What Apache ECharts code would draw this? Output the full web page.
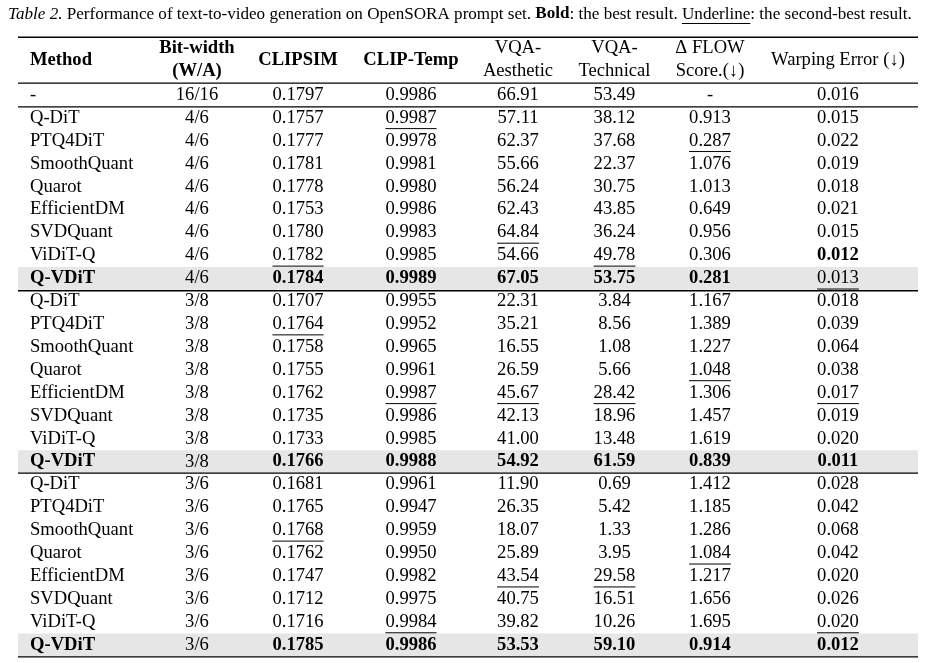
<!DOCTYPE html>
<html>
<head>
<meta charset="utf-8">
<title>Table 2</title>
<script src="https://cdn.jsdelivr.net/npm/echarts@6/dist/echarts.min.js"></script>
<style>
  html, body { margin: 0; padding: 0; background: #fff; }
  #main { width: 938px; height: 663px; }
</style>
</head>
<body>
<div id="main"></div>
<script>
// table data, one array per column (row 0 = full precision)
var methods = ["-", "Q-DiT", "PTQ4DiT", "SmoothQuant", "Quarot", "EfficientDM", "SVDQuant", "ViDiT-Q", "Q-VDiT",
  "Q-DiT", "PTQ4DiT", "SmoothQuant", "Quarot", "EfficientDM", "SVDQuant", "ViDiT-Q", "Q-VDiT",
  "Q-DiT", "PTQ4DiT", "SmoothQuant", "Quarot", "EfficientDM", "SVDQuant", "ViDiT-Q", "Q-VDiT"];
var bitWidth = ["16/16", "4/6", "4/6", "4/6", "4/6", "4/6", "4/6", "4/6", "4/6",
  "3/8", "3/8", "3/8", "3/8", "3/8", "3/8", "3/8", "3/8",
  "3/6", "3/6", "3/6", "3/6", "3/6", "3/6", "3/6", "3/6"];
var clipsim = ["0.1797", "0.1757", "0.1777", "0.1781", "0.1778", "0.1753", "0.1780", "0.1782", "0.1784",
  "0.1707", "0.1764", "0.1758", "0.1755", "0.1762", "0.1735", "0.1733", "0.1766",
  "0.1681", "0.1765", "0.1768", "0.1762", "0.1747", "0.1712", "0.1716", "0.1785"];
var clipTemp = ["0.9986", "0.9987", "0.9978", "0.9981", "0.9980", "0.9986", "0.9983", "0.9985", "0.9989",
  "0.9955", "0.9952", "0.9965", "0.9961", "0.9987", "0.9986", "0.9985", "0.9988",
  "0.9961", "0.9947", "0.9959", "0.9950", "0.9982", "0.9975", "0.9984", "0.9986"];
var vqaAesthetic = ["66.91", "57.11", "62.37", "55.66", "56.24", "62.43", "64.84", "54.66", "67.05",
  "22.31", "35.21", "16.55", "26.59", "45.67", "42.13", "41.00", "54.92",
  "11.90", "26.35", "18.07", "25.89", "43.54", "40.75", "39.82", "53.53"];
var vqaTechnical = ["53.49", "38.12", "37.68", "22.37", "30.75", "43.85", "36.24", "49.78", "53.75",
  "3.84", "8.56", "1.08", "5.66", "28.42", "18.96", "13.48", "61.59",
  "0.69", "5.42", "1.33", "3.95", "29.58", "16.51", "10.26", "59.10"];
var flowScore = ["-", "0.913", "0.287", "1.076", "1.013", "0.649", "0.956", "0.306", "0.281",
  "1.167", "1.389", "1.227", "1.048", "1.306", "1.457", "1.619", "0.839",
  "1.412", "1.185", "1.286", "1.084", "1.217", "1.656", "1.695", "0.914"];
var warpingError = ["0.016", "0.015", "0.022", "0.019", "0.018", "0.021", "0.015", "0.012", "0.013",
  "0.018", "0.039", "0.064", "0.038", "0.017", "0.019", "0.020", "0.011",
  "0.028", "0.042", "0.068", "0.042", "0.020", "0.026", "0.020", "0.012"];

var headers = [["Method"], ["Bit-width", "(W/A)"], ["CLIPSIM"], ["CLIP-Temp"],
  ["VQA-", "Aesthetic"], ["VQA-", "Technical"], ["\u0394 FLOW", "Score.(\u2193)"], ["Warping Error (\u2193)"]];
var headerBold = [true, true, true, true, false, false, false, false];

// [row, column] of best (bold) and second-best (underline) cells
var bestCells = [[7, 7], [8, 0], [8, 2], [8, 3], [8, 4], [8, 5], [8, 6],
  [16, 0], [16, 2], [16, 3], [16, 4], [16, 5], [16, 6], [16, 7],
  [24, 0], [24, 2], [24, 3], [24, 4], [24, 5], [24, 6], [24, 7]];
var secondCells = [[1, 3], [2, 6], [6, 4], [7, 2], [7, 5], [8, 7],
  [10, 2], [12, 6], [13, 3], [13, 4], [13, 5], [13, 7],
  [19, 2], [20, 6], [21, 4], [21, 5], [23, 3], [23, 7]];
var oursRows = [8, 16, 24];

var columns = [methods, bitWidth, clipsim, clipTemp, vqaAesthetic, vqaTechnical, flowScore, warpingError];

// layout
var COL_X = [30, 197, 298, 411, 518, 614.5, 710, 838];
var RULES = [-2.52, -0.52, 0.52, 8.54, 16.5, 24.52];
var TABLE_L = 18, TABLE_R = 918;
var FS = 18.6;
var FAMILY = '"Liberation Serif", "Times New Roman", serif';

var ctx = document.createElement("canvas").getContext("2d");
function textW(t, font) {
  ctx.font = font;
  return ctx.measureText(t).width;
}
function fontOf(bold, size, italic) {
  return (italic ? "italic " : "") + (bold ? "bold " : "") + size + "px " + FAMILY;
}
function has(list, r, c) {
  for (var i = 0; i < list.length; i++) {
    if (list[i][0] === r && list[i][1] === c) return true;
  }
  return false;
}
function textEl(str, x, y, font, align) {
  return {
    type: "text",
    style: {
      text: str, x: x, y: y, font: font, fill: "#000", textFill: "#000",
      align: align, textAlign: align, verticalAlign: "middle", textVerticalAlign: "middle"
    }
  };
}

var cellData = [];
for (var r = 0; r < methods.length; r++) {
  for (var c = 0; c < columns.length; c++) cellData.push([c, r]);
}
var headerData = [];
headers.forEach(function (lines, c) {
  if (lines.length === 1) headerData.push([c, -1.53, 0]);
  else {
    headerData.push([c, -2.04, 0]);
    headerData.push([c, -1.03, 1]);
  }
});

// caption, sized so it runs from x=8 to x=913 like the original
var caption = [
  { t: "Table 2.", italic: true },
  { t: " Performance of text-to-video generation on OpenSORA prompt set. " },
  { t: "Bold", bold: true },
  { t: ": the best result. " },
  { t: "Underline", under: true },
  { t: ": the second-best result." }
];
var w16 = 0;
caption.forEach(function (p) { w16 += textW(p.t, fontOf(p.bold, 16, p.italic)); });
var CAP_FS = Math.round(16 * 905 / w16 * 10) / 10;
var capEls = [];
var cx = 8;
caption.forEach(function (p) {
  var f = fontOf(p.bold, CAP_FS, p.italic);
  var w = textW(p.t, f);
  capEls.push({
    type: "text", x: cx, y: 14,
    style: { text: p.t, font: f, fill: "#000", align: "left", textAlign: "left", verticalAlign: "middle", textVerticalAlign: "middle" }
  });
  if (p.under) {
    capEls.push({ type: "line", shape: { x1: cx, y1: 23.5, x2: cx + w, y2: 23.5 }, style: { stroke: "#000", lineWidth: 1 } });
  }
  cx += w;
});

var myChart = echarts.init(document.getElementById("main"));
var option = {
  animation: false,
  grid: { left: 0, right: 0, top: 35.42, height: 623.33 },
  xAxis: { type: "value", min: 0, max: 938, show: false },
  yAxis: { type: "value", min: -2.6, max: 24.6, inverse: true, show: false },
  graphic: capEls,
  series: [
    {
      // shaded rows of the proposed method
      type: "custom",
      data: oursRows.map(function (r) { return [0, r]; }),
      renderItem: function (params, api) {
        var r = api.value(1);
        var p0 = api.coord([TABLE_L, r - 0.5]);
        var p1 = api.coord([TABLE_R, r + 0.5]);
        return { type: "rect", shape: { x: p0[0], y: p0[1], width: p1[0] - p0[0], height: p1[1] - p0[1] }, style: { fill: "#e6e6e6" } };
      },
      clip: false, silent: true, z: 1
    },
    {
      // horizontal rules
      type: "custom",
      data: RULES.map(function (r) { return [0, r]; }),
      renderItem: function (params, api) {
        var p0 = api.coord([TABLE_L, api.value(1)]);
        var p1 = api.coord([TABLE_R, api.value(1)]);
        return { type: "line", shape: { x1: p0[0], y1: p0[1], x2: p1[0], y2: p1[1] }, style: { stroke: "#000", lineWidth: 1.4 } };
      },
      clip: false, silent: true, z: 2
    },
    {
      // header
      type: "custom",
      data: headerData,
      renderItem: function (params, api) {
        var c = api.value(0);
        var p = api.coord([COL_X[c], api.value(1)]);
        var str = headers[c][api.value(2)];
        return textEl(str, p[0], p[1], fontOf(headerBold[c], FS), c === 0 ? "left" : "center");
      },
      clip: false, silent: true, z: 3
    },
    {
      // body cells
      type: "custom",
      data: cellData,
      renderItem: function (params, api) {
        var c = api.value(0), r = api.value(1);
        var p = api.coord([COL_X[c], r]);
        var str = columns[c][r];
        var bold = has(bestCells, r, c);
        var font = fontOf(bold, FS);
        var align = c === 0 ? "left" : "center";
        var kids = [textEl(str, p[0], p[1], font, align)];
        if (has(secondCells, r, c)) {
          var w = textW(str, font);
          var x1 = align === "left" ? p[0] : p[0] - w / 2;
          kids.push({ type: "line", shape: { x1: x1, y1: p[1] + 10.7, x2: x1 + w, y2: p[1] + 10.7 }, style: { stroke: "#000", lineWidth: 1 } });
        }
        return { type: "group", children: kids };
      },
      clip: false, silent: true, z: 3
    }
  ]
};
myChart.setOption(option);
</script>
</body>
</html>
